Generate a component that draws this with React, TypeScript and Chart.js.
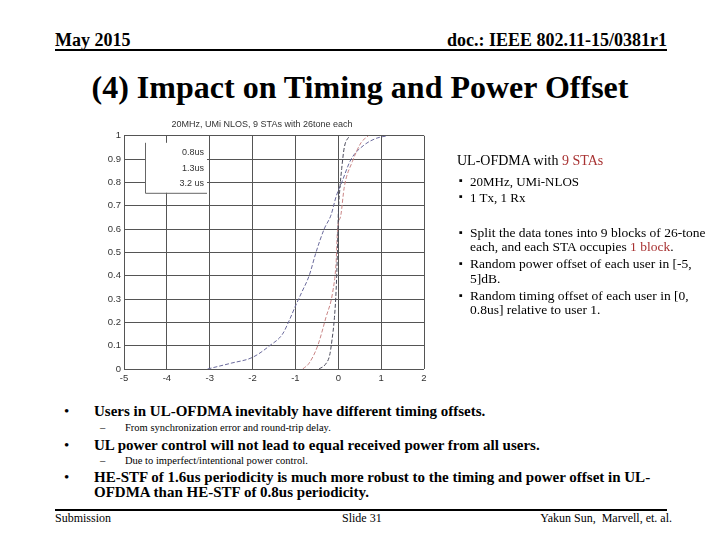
import React, { useEffect, useRef } from "react";
import { Chart, registerables } from "chart.js";

Chart.register(...registerables);

// ---- Data ----
const chartTitle = "20MHz, UMi NLOS, 9 STAs with 26tone each";
const seriesLabels = ["0.8us", "1.3us", "3.2 us"];
const seriesColors = ["#4c4c5c", "#c98585", "#6a6a9c"];

const x08 = [-0.45, -0.3, -0.2, -0.15, -0.09, -0.05, -0.02, 0.0, 0.04, 0.08, 0.14, 0.26];
const y08 = [0.0, 0.02, 0.06, 0.12, 0.22, 0.34, 0.5, 0.66, 0.78, 0.86, 0.95, 1.0];

const x13 = [-0.83, -0.68, -0.48, -0.29, -0.13, -0.05, -0.02, 0.06, 0.14, 0.33, 0.53, 0.7];
const y13 = [0.0, 0.025, 0.1, 0.22, 0.33, 0.46, 0.59, 0.66, 0.78, 0.89, 0.97, 1.0];

const x32 = [-3.05, -2.5, -2.0, -1.6, -1.3, -1.14, -1.0, -0.85, -0.68, -0.52, -0.33, -0.17, -0.05, 0.08, 0.3, 0.6, 0.9, 1.15];
const y32 = [0.0, 0.025, 0.05, 0.1, 0.15, 0.21, 0.27, 0.33, 0.4, 0.5, 0.6, 0.66, 0.74, 0.8, 0.9, 0.96, 0.99, 1.0];

const xMin = -5;
const xMax = 2;
const yMin = 0;
const yMax = 1;

const seriesX = [x08, x13, x32];
const seriesY = [y08, y13, y32];

const serif = "'Liberation Serif', 'Times New Roman', serif";
const sans = "'Liberation Sans', Arial, sans-serif";
const darkRed = "#a83232";

const legendPlugin = {
  id: "matlabLegend",
  afterDatasetsDraw(chart: any) {
    const ctx = chart.ctx;
    const ca = chart.chartArea;
    const left = ca.left + 21;
    const top = ca.top + 7;
    const w = 62;
    const h = 50;
    ctx.save();
    ctx.fillStyle = "#ffffff";
    ctx.fillRect(left, top, w, h);
    ctx.strokeStyle = "#666";
    ctx.lineWidth = 1;
    ctx.beginPath();
    ctx.moveTo(left + 0.5, top);
    ctx.lineTo(left + 0.5, top + h + 0.5);
    ctx.lineTo(left + w, top + h + 0.5);
    ctx.stroke();
    ctx.fillStyle = "#333";
    ctx.font = "9px " + sans;
    ctx.textAlign = "right";
    ctx.textBaseline = "middle";
    seriesLabels.forEach((lab, i) => {
      ctx.fillText(lab, left + 59, top + 10 + i * 15.5);
    });
    ctx.restore();
  },
};

function CdfChart() {
  const ref = useRef<HTMLCanvasElement | null>(null);
  useEffect(() => {
    if (!ref.current) return;
    const chart = new Chart(ref.current, {
      type: "line",
      data: {
        datasets: seriesLabels.map((lab, i) => ({
          label: lab,
          data: seriesX[i].map((x, j) => ({ x, y: seriesY[i][j] })),
          borderColor: seriesColors[i],
          borderWidth: 1,
          borderDash: [4, 2],
          pointRadius: 0,
          fill: false,
          cubicInterpolationMode: "monotone" as const,
        })),
      },
      options: {
        animation: false,
        responsive: false,
        layout: { padding: { left: 0, right: 36, top: 0, bottom: 0 } },
        plugins: {
          legend: { display: false },
          tooltip: { enabled: false },
          title: {
            display: true,
            text: chartTitle,
            color: "#333",
            font: { family: sans, size: 9, weight: "normal" },
            padding: { top: 9, bottom: 6 },
          },
        },
        scales: {
          x: {
            type: "linear",
            min: xMin,
            max: xMax,
            border: { display: false },
            grid: { color: "#555", borderDash: [1, 2], drawTicks: false } as any,
            ticks: { stepSize: 1, color: "#333", font: { family: sans, size: 9.5 }, padding: 4 },
            afterFit: (s: any) => { s.height = 21; },
          },
          y: {
            type: "linear",
            min: yMin,
            max: yMax,
            border: { display: false },
            grid: { color: "#555", borderDash: [1, 2], drawTicks: false } as any,
            ticks: {
              stepSize: 0.1,
              color: "#333",
              font: { family: sans, size: 9.5 },
              padding: 3,
              callback: (v: any) => (v === 0 || v === 1 ? String(v) : Number(v).toFixed(1)),
            },
            afterFit: (s: any) => { s.width = 24; },
          },
        },
      },
      plugins: [legendPlugin],
    });
    return () => chart.destroy();
  }, []);
  return (
    <canvas
      ref={ref}
      width={360}
      height={280}
      style={{ position: "absolute", left: 100, top: 110, width: 360, height: 280 }}
    />
  );
}

function T(props: { x?: number; y: number; size: number; bold?: boolean; children: any; style?: any }) {
  return (
    <div
      style={{
        position: "absolute",
        left: props.x,
        top: props.y - props.size / 2,
        fontSize: props.size,
        lineHeight: 1,
        fontFamily: serif,
        fontWeight: props.bold ? "bold" : "normal",
        whiteSpace: "pre",
        color: "#000",
        ...(props.style || {}),
      }}
    >
      {props.children}
    </div>
  );
}

export default function App() {
  const sq = <span style={{ fontSize: 11, position: "relative", top: -1 }}>▪</span>;
  return (
    <div style={{ position: "absolute", left: 0, top: 0, width: 720, height: 540, background: "#fff", overflow: "hidden" }}>
      {/* Header */}
      <T x={55} y={40} size={18} bold>May 2015</T>
      <T y={40} size={18} bold style={{ right: 53 }}>doc.: IEEE 802.11-15/0381r1</T>
      <div style={{ position: "absolute", left: 55, top: 49, width: 612, height: 2, background: "#000" }} />

      {/* Title */}
      <T x={0} y={87} size={32} bold style={{ width: 720, textAlign: "center" }}>
        (4) Impact on Timing and Power Offset
      </T>

      <CdfChart />

      {/* Right text block */}
      <T x={457} y={161} size={14}>
        UL-OFDMA with <span style={{ color: darkRed }}>9 STAs</span>
      </T>
      <T x={459} y={181} size={13.5}>{sq}</T>
      <T x={470} y={181} size={13}>20MHz, UMi-NLOS</T>
      <T x={459} y={197} size={13.5}>{sq}</T>
      <T x={470} y={197} size={13}>1 Tx, 1 Rx</T>
      <T x={459} y={233} size={13.5}>{sq}</T>
      <T x={470} y={233} size={13.5}>Split the data tones into 9 blocks of 26-tone</T>
      <T x={470} y={247} size={13.5}>
        each, and each STA occupies <span style={{ color: darkRed }}>1 block</span>.
      </T>
      <T x={459} y={264} size={13.5}>{sq}</T>
      <T x={470} y={264} size={13.5}>Random power offset of each user in [-5,</T>
      <T x={470} y={279} size={13.5}>5]dB.</T>
      <T x={459} y={296} size={13.5}>{sq}</T>
      <T x={470} y={296} size={13.5}>Random timing offset of each user in [0,</T>
      <T x={470} y={310} size={13.5}>0.8us] relative to user 1.</T>

      {/* Bottom bullets */}
      <T x={64} y={411} size={15}>•</T>
      <T x={94} y={411} size={15} bold>Users in UL-OFDMA inevitably have different timing offsets.</T>
      <T x={100} y={428} size={10.5}>–</T>
      <T x={125} y={428} size={10.5}>From synchronization error and round-trip delay.</T>
      <T x={64} y={445} size={15}>•</T>
      <T x={94} y={445} size={15} bold>UL power control will not lead to equal received power from all users.</T>
      <T x={100} y={461} size={10.5}>–</T>
      <T x={125} y={461} size={10.5}>Due to imperfect/intentional power control.</T>
      <T x={64} y={477} size={15}>•</T>
      <T x={94} y={477} size={15} bold>HE-STF of 1.6us periodicity is much more robust to the timing and power offset in UL-</T>
      <T x={94} y={492} size={15} bold>OFDMA than HE-STF of 0.8us periodicity.</T>

      {/* Footer */}
      <div style={{ position: "absolute", left: 55, top: 509, width: 612, height: 2, background: "#000" }} />
      <T x={55} y={518} size={12}>Submission</T>
      <T x={342} y={518} size={12}>Slide 31</T>
      <T y={518} size={12} style={{ right: 48 }}>Yakun Sun,  Marvell, et. al.</T>
    </div>
  );
}
